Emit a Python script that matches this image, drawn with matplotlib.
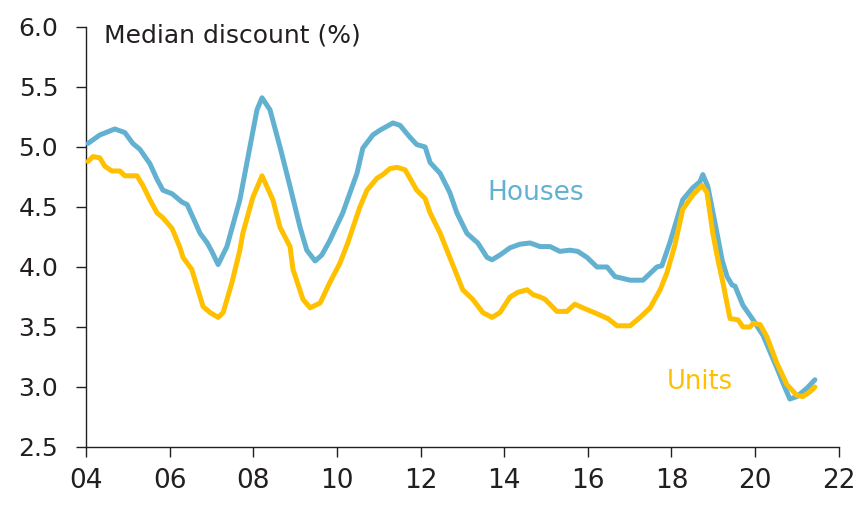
import matplotlib
matplotlib.use("Agg")
import matplotlib.pyplot as plt

# Median vendor discount, houses vs units (fractional years)
houses_years = [2004.05, 2004.33, 2004.69, 2004.93, 2005.12, 2005.29, 2005.53, 2005.70, 2005.84,
                2006.06, 2006.30, 2006.42, 2006.73, 2006.90, 2007.01, 2007.16, 2007.37, 2007.68,
                2007.92, 2008.09, 2008.21, 2008.40, 2008.64, 2008.88, 2009.12, 2009.28, 2009.48,
                2009.64, 2009.83, 2010.14, 2010.48, 2010.62, 2010.86, 2011.03, 2011.34, 2011.51,
                2011.75, 2011.91, 2012.11, 2012.23, 2012.47, 2012.70, 2012.87, 2013.11, 2013.37,
                2013.59, 2013.71, 2013.90, 2014.14, 2014.38, 2014.62, 2014.86, 2015.10, 2015.33,
                2015.57, 2015.76, 2015.98, 2016.22, 2016.46, 2016.65, 2017.01, 2017.32, 2017.65,
                2017.77, 2017.96, 2018.27, 2018.51, 2018.68, 2018.75, 2018.87, 2019.09, 2019.21,
                2019.33, 2019.45, 2019.52, 2019.71, 2019.95, 2020.19, 2020.52, 2020.67, 2020.83,
                2021.00, 2021.24, 2021.43]
houses = [5.03, 5.10, 5.15, 5.12, 5.03, 4.98, 4.86, 4.73, 4.64,
          4.61, 4.54, 4.52, 4.28, 4.20, 4.13, 4.02, 4.17, 4.56,
          5.00, 5.31, 5.41, 5.31, 5.00, 4.67, 4.33, 4.14, 4.05,
          4.10, 4.22, 4.45, 4.78, 4.99, 5.10, 5.14, 5.20, 5.18,
          5.08, 5.02, 5.00, 4.87, 4.78, 4.62, 4.45, 4.28, 4.20,
          4.08, 4.06, 4.10, 4.16, 4.19, 4.20, 4.17, 4.17, 4.13,
          4.14, 4.13, 4.08, 4.00, 4.00, 3.92, 3.89, 3.89, 4.00,
          4.01, 4.20, 4.56, 4.66, 4.71, 4.77, 4.67, 4.28, 4.06,
          3.92, 3.85, 3.84, 3.68, 3.56, 3.43, 3.16, 3.03, 2.90,
          2.92, 2.99, 3.06]

units_years = [2004.05, 2004.17, 2004.33, 2004.45, 2004.62, 2004.81, 2004.93, 2005.22, 2005.36,
               2005.53, 2005.70, 2005.84, 2006.06, 2006.25, 2006.32, 2006.53, 2006.80, 2006.97,
               2007.16, 2007.28, 2007.49, 2007.68, 2007.75, 2007.99, 2008.21, 2008.47, 2008.64,
               2008.88, 2008.95, 2009.19, 2009.36, 2009.60, 2009.83, 2010.07, 2010.26, 2010.55,
               2010.72, 2010.96, 2011.10, 2011.27, 2011.44, 2011.63, 2011.91, 2012.11, 2012.23,
               2012.47, 2012.70, 2013.01, 2013.25, 2013.49, 2013.71, 2013.90, 2014.14, 2014.33,
               2014.55, 2014.69, 2014.86, 2014.98, 2015.26, 2015.50, 2015.69, 2015.88, 2016.22,
               2016.48, 2016.70, 2017.01, 2017.25, 2017.49, 2017.73, 2017.89, 2018.08, 2018.27,
               2018.51, 2018.73, 2018.85, 2018.99, 2019.11, 2019.23, 2019.40, 2019.59, 2019.71,
               2019.88, 2019.95, 2020.12, 2020.28, 2020.52, 2020.76, 2021.00, 2021.14, 2021.31,
               2021.43]
units = [4.88, 4.92, 4.91, 4.84, 4.80, 4.80, 4.76, 4.76, 4.68,
         4.56, 4.45, 4.41, 4.32, 4.16, 4.08, 3.98, 3.67, 3.62,
         3.58, 3.62, 3.87, 4.14, 4.28, 4.58, 4.76, 4.56, 4.33,
         4.17, 3.98, 3.73, 3.66, 3.70, 3.87, 4.03, 4.20, 4.50,
         4.64, 4.74, 4.77, 4.82, 4.83, 4.81, 4.64, 4.57, 4.45,
         4.28, 4.08, 3.81, 3.73, 3.62, 3.58, 3.62, 3.75, 3.79,
         3.81, 3.77, 3.75, 3.73, 3.63, 3.63, 3.69, 3.66, 3.61,
         3.57, 3.51, 3.51, 3.58, 3.66, 3.81, 3.95, 4.18, 4.48,
         4.60, 4.68, 4.62, 4.28, 4.06, 3.87, 3.57, 3.56, 3.50,
         3.50, 3.53, 3.52, 3.42, 3.20, 3.02, 2.93, 2.92, 2.96,
         3.00]

x_ticks = [2004, 2006, 2008, 2010, 2012, 2014, 2016, 2018, 2020, 2022]
x_tick_labels = ["04", "06", "08", "10", "12", "14", "16", "18", "20", "22"]
y_ticks = [2.5, 3.0, 3.5, 4.0, 4.5, 5.0, 5.5, 6.0]

HOUSE_COL = "#62B1D0"
UNIT_COL = "#FFC000"
TEXT_COL = "#231F20"

plt.rcParams["font.family"] = ["DejaVu Sans"]

fig = plt.figure(figsize=(8.57, 5.08), dpi=100)
ax = fig.add_axes([0.1003, 0.1201, 0.8784, 0.8268])

ax.plot(houses_years, houses, color=HOUSE_COL, lw=3.6, solid_joinstyle="round",
        solid_capstyle="round", zorder=3)
ax.plot(units_years, units, color=UNIT_COL, lw=3.6, solid_joinstyle="round",
        solid_capstyle="round", zorder=4)

ax.set_xlim(2004, 2022)
ax.set_ylim(2.5, 6.0)
ax.set_xticks(x_ticks)
ax.set_xticklabels(x_tick_labels)
ax.set_yticks(y_ticks)
ax.set_yticklabels([f"{v:.1f}" for v in y_ticks])

for side in ("top", "right"):
    ax.spines[side].set_visible(False)
for side in ("left", "bottom"):
    ax.spines[side].set_color(TEXT_COL)
    ax.spines[side].set_linewidth(1.0)

ax.tick_params(axis="both", direction="out", length=7, width=1.0,
               color=TEXT_COL, labelcolor=TEXT_COL)
ax.tick_params(axis="x", pad=8, labelsize=19)
ax.tick_params(axis="y", pad=13, labelsize=18)

ax.text(2004.42, 5.93, "Median discount (%)", fontsize=18, color=TEXT_COL,
        ha="left", va="center")
ax.text(2013.6, 4.62, "Houses", fontsize=19, color=HOUSE_COL, ha="left", va="center")
ax.text(2017.88, 3.04, "Units", fontsize=18.5, color=UNIT_COL, ha="left", va="center")

fig.savefig("out.png", dpi=100)
